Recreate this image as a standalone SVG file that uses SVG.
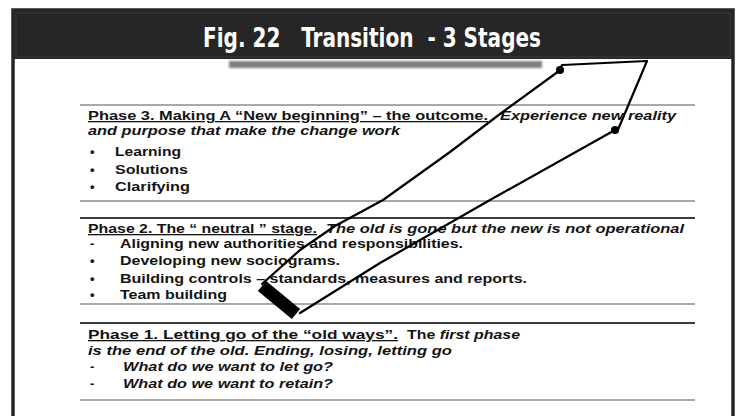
<svg xmlns="http://www.w3.org/2000/svg" width="736" height="416" viewBox="0 0 736 416">
  <style>
    .title { font-family: "DejaVu Sans Condensed", "DejaVu Sans", sans-serif; font-stretch: condensed; font-weight: bold; font-size: 27px; fill: #ffffff; white-space: pre; }
    .t { font-family: "Liberation Sans", Arial, sans-serif; font-size: 13px; font-weight: bold; fill: #141414; }
    .i { font-style: italic; }
    .u { text-decoration: underline; }
    .rule { stroke: #8c8c8c; stroke-width: 1.5; fill: none; }
    .rule-dark { stroke: #3c3c3c; stroke-width: 2.2; fill: none; }
    .pen { stroke: #000; stroke-width: 2.2; fill: none; stroke-linecap: round; stroke-linejoin: round; }
  </style>
  <defs>
    <filter id="soft" x="-5%" y="-50%" width="110%" height="200%">
      <feGaussianBlur stdDeviation="0.8"/>
    </filter>
  </defs>

  <!-- frame and title band -->
  <g id="frame">
    <rect x="0" y="0" width="736" height="416" fill="#ffffff"/>
    <rect x="13" y="10" width="720" height="420" fill="#ffffff" stroke="#262626" stroke-width="3.5"/>
    <rect x="13" y="10" width="720" height="49" fill="#262626"/>
    <rect x="16" y="13" width="714" height="44" fill="none" stroke="#3a3a3a" stroke-width="1"/>
    <text class="title" x="203" y="47" xml:space="preserve" textLength="338" lengthAdjust="spacingAndGlyphs">Fig. 22   Transition  - 3 Stages</text>
  </g>

  <!-- heading strip under the title -->
  <rect id="strip" x="229" y="61" width="313" height="7" fill="#7f7f7f" filter="url(#soft)"/>

  <!-- horizontal rules separating the phases -->
  <g id="rules">
    <line class="rule" x1="80" y1="105" x2="695" y2="105"/>
    <line class="rule" x1="80" y1="201" x2="695" y2="201"/>
    <line class="rule-dark" x1="80" y1="218" x2="695" y2="218"/>
    <line class="rule" x1="80" y1="304" x2="695" y2="304"/>
    <line class="rule-dark" x1="80" y1="323" x2="695" y2="323"/>
    <line class="rule" x1="80" y1="400" x2="695" y2="400" stroke-width="2"/>
  </g>

  <!-- Phase 3 -->
  <g id="phase3">
    <text class="t u" x="88" y="120" textLength="400" lengthAdjust="spacingAndGlyphs">Phase 3. Making A “New beginning” – the outcome.</text>
    <text class="t i" x="500" y="120" textLength="176" lengthAdjust="spacingAndGlyphs">Experience new reality</text>
    <text class="t i" x="88" y="135" textLength="312" lengthAdjust="spacingAndGlyphs">and purpose that make the change work</text>
    <text class="t" x="90" y="156">•</text>
    <text class="t" x="115" y="156" textLength="66" lengthAdjust="spacingAndGlyphs">Learning</text>
    <text class="t" x="90" y="174">•</text>
    <text class="t" x="115" y="174" textLength="73" lengthAdjust="spacingAndGlyphs">Solutions</text>
    <text class="t" x="90" y="191">•</text>
    <text class="t" x="115" y="191" textLength="75" lengthAdjust="spacingAndGlyphs">Clarifying</text>
  </g>

  <!-- Phase 2 -->
  <g id="phase2">
    <text class="t u" x="88" y="233" textLength="229" lengthAdjust="spacingAndGlyphs">Phase 2.  The “ neutral ” stage.</text>
    <text class="t i" x="326" y="233" textLength="358" lengthAdjust="spacingAndGlyphs">The old is gone but the new is not operational</text>
    <text class="t" x="90" y="248">-</text>
    <text class="t" x="120" y="248" textLength="343" lengthAdjust="spacingAndGlyphs">Aligning new authorities and responsibilities.</text>
    <text class="t" x="90" y="265">•</text>
    <text class="t" x="120" y="265" textLength="220" lengthAdjust="spacingAndGlyphs">Developing new sociograms.</text>
    <text class="t" x="90" y="283">•</text>
    <text class="t" x="120" y="283" textLength="407" lengthAdjust="spacingAndGlyphs">Building controls – standards, measures and reports.</text>
    <text class="t" x="90" y="299">•</text>
    <text class="t" x="120" y="299" textLength="107" lengthAdjust="spacingAndGlyphs">Team building</text>
  </g>

  <!-- Phase 1 -->
  <g id="phase1">
    <text class="t u" x="88" y="339" textLength="310" lengthAdjust="spacingAndGlyphs">Phase 1.   Letting go of the “old ways”.</text>
    <text class="t" x="407" y="339" textLength="113" lengthAdjust="spacingAndGlyphs">The <tspan class="i">first phase</tspan></text>
    <text class="t i" x="88" y="355" textLength="364" lengthAdjust="spacingAndGlyphs">is the end of the old.  Ending, losing, letting go</text>
    <text class="t" x="90" y="371">-</text>
    <text class="t i" x="123" y="371" textLength="210" lengthAdjust="spacingAndGlyphs">What do we want to let go?</text>
    <text class="t" x="90" y="388">-</text>
    <text class="t i" x="123" y="388" textLength="210" lengthAdjust="spacingAndGlyphs">What do we want to retain?</text>
  </g>

  <!-- hand-drawn arrow rising from phase 1 to phase 3 -->
  <g id="connectors">
    <polyline class="pen" points="262,284 300,250 335,226 383,200 450,152 500,114 559,71"/>
    <polyline class="pen" points="300,313 380,263 490,200 615,130"/>
    <polyline class="pen" stroke-width="3" points="559,71 562,65 647,61 617,132"/>
    <circle cx="560" cy="70" r="4" fill="#000"/>
    <circle cx="615" cy="130" r="4" fill="#000"/>
    <line x1="262" y1="286" x2="296" y2="314" stroke="#000" stroke-width="13" stroke-linecap="butt"/>
  </g>
</svg>
